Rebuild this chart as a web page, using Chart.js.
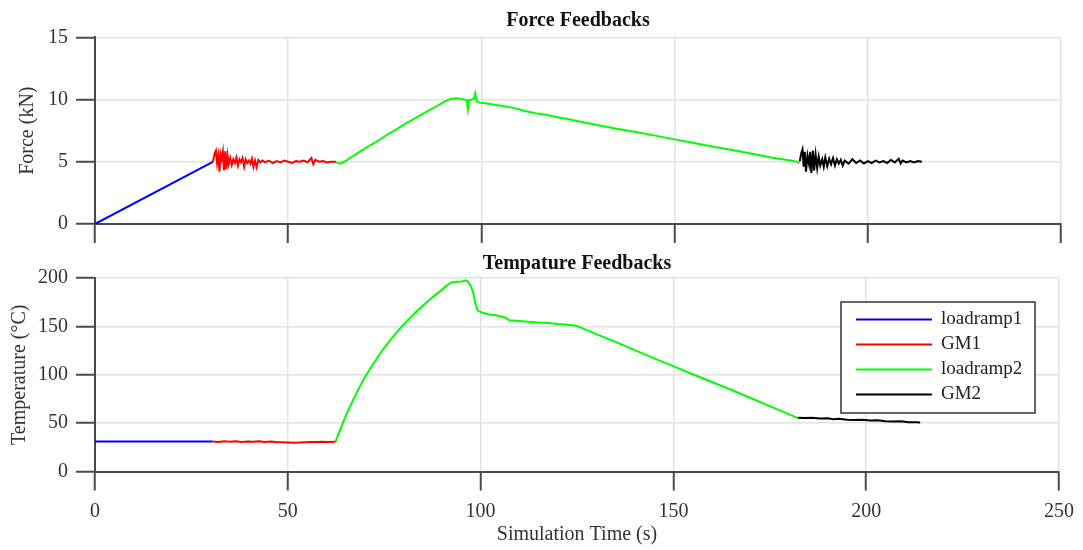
<!DOCTYPE html>
<html>
<head>
<meta charset="utf-8">
<title>Force / Temperature Feedbacks</title>
<script src="https://cdn.jsdelivr.net/npm/chart.js@4.4.1/dist/chart.umd.min.js"></script>
<style>
    html, body { margin: 0; padding: 0; background: #fff; }
    #wrap { position: relative; width: 1083px; height: 550px; }
    canvas { position: absolute; left: 0; }
</style>
</head>
<body>
<div id="wrap">
    <canvas id="forceChart" width="1083" height="250" style="top:0px"></canvas>
    <canvas id="tempChart" width="1083" height="300" style="top:250px"></canvas>
</div>
<script>
// series names + colours (legend order)
var segmentNames = ['loadramp1', 'GM1', 'loadramp2', 'GM2'];
var segmentColors = ['#0000ff', '#ff0000', '#00ff00', '#000000'];

// tick labels
var timeTicks = [0, 50, 100, 150, 200, 250];
var forceTicks = [0, 5, 10, 15];
var tempTicks = [0, 50, 100, 150, 200];

// force feedback, [time (s), force (kN)]
var forceLoadramp1 = [[0, 0], [30.5, 5.0]];
var forceGM1 = [
    [30.5, 5.0], [31.0, 5.7], [31.3, 5.9], [31.6, 4.9], [31.9, 5.5], [32.2, 4.2], [32.5, 5.6], [32.8, 5.2],
    [33.1, 5.8], [33.4, 4.3], [33.7, 5.85], [34.0, 4.4], [34.3, 5.5], [34.6, 4.8], [35.0, 5.3], [35.4, 4.75],
    [35.8, 5.2], [36.2, 4.9], [36.6, 5.35], [37.0, 4.7], [37.4, 5.2], [37.8, 4.95], [38.2, 5.3], [38.6, 4.6],
    [39.0, 5.2], [39.4, 4.9], [39.8, 5.1], [40.2, 4.85], [40.6, 5.25], [41.0, 4.6], [41.4, 5.1], [41.8, 4.55],
    [42.3, 5.15], [42.8, 4.95], [43.3, 5.1], [44, 4.95], [45, 5.1], [46, 4.9], [47, 5.05], [48, 4.95],
    [49, 5.1], [50, 5.0], [51, 4.9], [52, 5.05], [53, 5.0], [54, 5.1], [55, 4.95], [56, 5.3],
    [56.5, 4.8], [57, 5.15], [58, 5.0], [59, 5.05], [60, 4.95], [61, 5.0], [62.4, 5.0]
];
var forceLoadramp2 = [
    [62.4, 4.95], [63.4, 4.85], [64.5, 5.0], [66, 5.3], [68, 5.7], [70, 6.1], [72, 6.45], [74, 6.85],
    [76, 7.25], [78, 7.6], [80, 8.0], [82, 8.35], [84, 8.7], [86, 9.05], [88, 9.4], [90, 9.75],
    [92, 10.05], [93.5, 10.1], [95, 10.05], [96.2, 9.95], [96.5, 9.2], [96.8, 9.95], [97.5, 10.0], [98.1, 10.1],
    [98.4, 10.5], [98.8, 9.85], [99.5, 9.75], [101, 9.7], [103, 9.6], [105, 9.5], [108, 9.35], [111, 9.1],
    [114, 8.9], [117, 8.75], [120, 8.55], [122, 8.45], [125, 8.25], [130, 7.95], [135, 7.65], [140, 7.4],
    [145, 7.1], [150, 6.8], [155, 6.5], [160, 6.2], [165, 5.95], [170, 5.65], [175, 5.35], [180, 5.1],
    [182.4, 4.95]
];
var forceGM2 = [
    [182.4, 5.05], [182.8, 5.7], [183.1, 6.0], [183.4, 4.6], [183.7, 5.8], [184.0, 4.2], [184.4, 5.5], [184.8, 4.8],
    [185.1, 5.8], [185.4, 4.1], [185.8, 5.9], [186.1, 4.3], [186.5, 5.6], [186.9, 4.5], [187.3, 5.4], [187.7, 4.7],
    [188.2, 5.2], [188.6, 4.6], [189.0, 5.35], [189.5, 4.65], [190.0, 5.25], [190.5, 4.8], [191, 5.3], [191.5, 4.7],
    [192, 5.2], [192.5, 4.85], [193, 5.15], [193.5, 4.7], [194, 5.1], [195, 4.85], [196, 5.2], [197, 4.9],
    [198, 5.1], [199, 4.85], [200, 5.05], [201, 4.9], [202, 5.1], [203, 4.95], [204, 5.05], [205, 4.9],
    [206, 5.15], [207, 4.95], [208, 5.25], [208.5, 4.85], [209, 5.1], [210, 4.95], [211, 5.05], [212, 4.95],
    [213, 5.05], [214, 5.0]
];

// temperature feedback, [time (s), temperature (C)]
var tempLoadramp1 = [[0, 31], [30.5, 31]];
var tempGM1 = [
    [30.5, 31], [32, 30.6], [33.5, 31.3], [35, 30.8], [36.5, 31.2], [38, 30.5], [39.5, 31.1], [41, 30.7],
    [42.5, 31.2], [44, 30.6], [45.5, 30.9], [47, 30.4], [48.5, 30.2], [50, 30.0], [51.5, 29.8], [53, 29.9],
    [54.5, 30.3], [56, 30.6], [57.5, 30.4], [59, 30.8], [60.5, 30.5], [62.4, 30.7]
];
var tempLoadramp2 = [
    [62.4, 30.8], [63.3, 40.5], [64.3, 50.4], [66, 66.2], [68, 82.8], [70, 97.4], [72, 110.4], [74, 122.2],
    [76, 133], [78, 142.8], [80, 151.8], [82.5, 162], [85, 171.3], [87.5, 180], [90, 188], [91.5, 193],
    [92.5, 195.5], [94, 196.2], [95.2, 196.4], [96.2, 197.5], [96.8, 196], [97.4, 192], [98.1, 184.7], [98.6, 174.3],
    [99.2, 166.6], [100.5, 164], [102.2, 162.2], [104, 161.5], [106.5, 159], [107.4, 156.3], [110, 155.5], [113, 154.5],
    [115, 154], [117.8, 153.6], [120, 152.5], [122, 152], [123.8, 151.1], [125, 150.5], [130, 142], [135, 134],
    [140, 125.5], [145, 117], [150.1, 108.6], [155, 100.5], [160, 92.5], [165, 84.5], [170, 76], [175, 67.5],
    [180, 59], [182.2, 55.5]
];
var tempGM2 = [
    [182.2, 55.5], [184, 55.2], [186, 55.6], [188, 54.8], [190, 55], [191.5, 54], [193, 54.5], [195, 53.6],
    [197, 53.3], [199, 53.5], [201, 52.6], [203, 52.9], [205, 52], [207, 51.6], [209, 51.9], [211, 51],
    [213, 50.8], [214, 50.6]
];

Chart.defaults.font.family = '"Liberation Serif", "Times New Roman", serif';
Chart.defaults.color = '#333';
Chart.defaults.animation = false;

var toPoints = function (pairs) {
    return pairs.map(function (p) { return { x: p[0], y: p[1] }; });
};

var makeDatasets = function (segments) {
    return segments.map(function (seg, i) {
        return {
            label: segmentNames[i],
            data: toPoints(seg),
            borderColor: segmentColors[i],
            backgroundColor: segmentColors[i],
            borderWidth: 2,
            pointRadius: 0,
            tension: 0,
            fill: false
        };
    });
};

var gridOpts = { color: '#e2e2e2', lineWidth: 1.5, tickLength: 19, tickColor: '#4a4a4a', tickWidth: 2 };
var borderOpts = { color: '#4a4a4a', width: 2 };

// centre the title over the plot area, not the whole canvas
var centerTitle = {
    id: 'centerTitle',
    afterLayout: function (chart) {
        if (chart.titleBlock) {
            chart.titleBlock.left = chart.chartArea.left;
            chart.titleBlock.right = chart.chartArea.right;
        }
    }
};

var makeOptions = function (cfg) {
    return {
        responsive: false,
        animation: false,
        layout: { padding: { left: 0, right: 22, top: 0, bottom: 0 } },
        plugins: {
            legend: { display: false },
            tooltip: { enabled: false },
            title: {
                display: true,
                text: cfg.title,
                color: '#111',
                font: { size: 20, weight: 'bold' },
                padding: cfg.titlePad
            }
        },
        scales: {
            x: {
                type: 'linear',
                min: 0,
                max: 250,
                afterBuildTicks: function (scale) {
                    scale.ticks = timeTicks.map(function (v) { return { value: v }; });
                },
                afterFit: function (scale) { scale.height = cfg.xHeight; },
                grid: gridOpts,
                border: borderOpts,
                ticks: { display: cfg.showX, padding: 9, font: { size: 20 }, color: '#333' },
                title: {
                    display: cfg.showX,
                    text: 'Simulation Time (s)',
                    font: { size: 20 },
                    color: '#333',
                    padding: { top: 3, bottom: 3 }
                }
            },
            y: {
                type: 'linear',
                min: cfg.yTicks[0],
                max: cfg.yTicks[cfg.yTicks.length - 1],
                afterBuildTicks: function (scale) {
                    scale.ticks = cfg.yTicks.map(function (v) { return { value: v }; });
                },
                afterFit: function (scale) { scale.width = 95; },
                grid: gridOpts,
                border: borderOpts,
                ticks: { padding: 8, font: { size: 20 }, color: '#333' },
                title: {
                    display: true,
                    text: cfg.yTitle,
                    font: { size: 20 },
                    color: '#333',
                    padding: { top: cfg.yTitlePad, bottom: 0 }
                }
            }
        }
    };
};

// legend box drawn inside the temperature plot
var legendBox = {
    id: 'legendBox',
    afterDraw: function (chart) {
        var ctx = chart.ctx;
        var x = 841, y = 52, w = 194, h = 111;
        ctx.save();
        ctx.fillStyle = '#fff';
        ctx.fillRect(x, y, w, h);
        ctx.strokeStyle = '#333';
        ctx.lineWidth = 1.5;
        ctx.strokeRect(x, y, w, h);
        ctx.font = '19px "Liberation Serif", "Times New Roman", serif';
        ctx.textBaseline = 'middle';
        chart.data.datasets.forEach(function (ds, i) {
            var ly = y + 17.5 + i * 25;
            ctx.strokeStyle = ds.borderColor;
            ctx.lineWidth = 2;
            ctx.beginPath();
            ctx.moveTo(x + 15, ly);
            ctx.lineTo(x + 91, ly);
            ctx.stroke();
            ctx.fillStyle = '#222';
            ctx.fillText(ds.label, x + 100, ly);
        });
        ctx.restore();
    }
};

var forceChart = new Chart(document.getElementById('forceChart').getContext('2d'), {
    type: 'line',
    data: { datasets: makeDatasets([forceLoadramp1, forceGM1, forceLoadramp2, forceGM2]) },
    options: makeOptions({
        title: 'Force Feedbacks',
        titlePad: { top: 8.5, bottom: 4.8 },
        showX: false,
        xHeight: 26,
        yTicks: forceTicks,
        yTitle: 'Force (kN)',
        yTitlePad: 16
    }),
    plugins: [centerTitle]
});

var tempChart = new Chart(document.getElementById('tempChart').getContext('2d'), {
    type: 'line',
    data: { datasets: makeDatasets([tempLoadramp1, tempGM1, tempLoadramp2, tempGM2]) },
    options: makeOptions({
        title: 'Tempature Feedbacks',
        titlePad: { top: 2, bottom: 2 },
        showX: true,
        xHeight: 78.5,
        yTicks: tempTicks,
        yTitle: 'Temperature (\u00B0C)',
        yTitlePad: 8
    }),
    plugins: [centerTitle, legendBox]
});
</script>
</body>
</html>
